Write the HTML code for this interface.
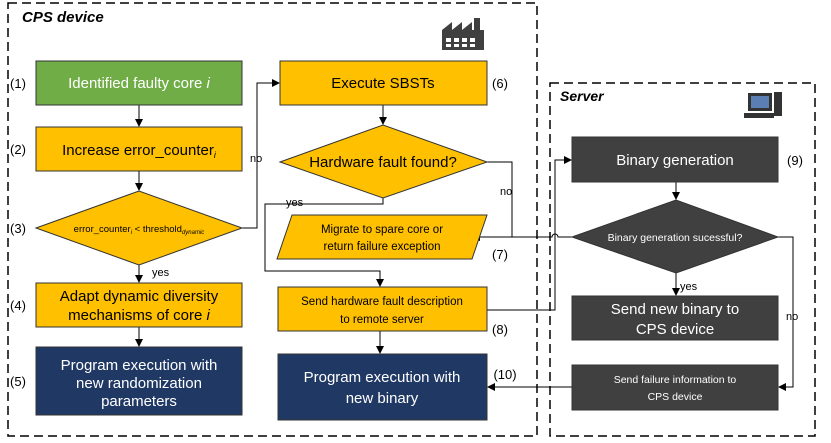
<!DOCTYPE html>
<html><head><meta charset="utf-8"><style>body{margin:0;background:#fff}svg{display:block}text{font-family:"Liberation Sans",sans-serif}</style></head><body>
<svg width="831" height="443" viewBox="0 0 831 443" xmlns="http://www.w3.org/2000/svg">
<defs><marker id="a" markerWidth="8" markerHeight="8" refX="7" refY="4" orient="auto" markerUnits="userSpaceOnUse"><path d="M0,0 L8,4 L0,8 z" fill="#000"/></marker></defs>
<g fill="none" stroke="#000" stroke-width="1.5" stroke-dasharray="9,5">
<rect x="8" y="3" width="529" height="433"/>
<rect x="550" y="83" width="265" height="353"/>
</g>
<text x="22" y="22" font-size="15" font-weight="bold" font-style="italic">CPS device</text>
<text x="560" y="101" font-size="14" font-weight="bold" font-style="italic">Server</text>
<!-- factory icon -->
<g fill="#404040"><rect x="442" y="30" width="42" height="20"/><rect x="474" y="18" width="6" height="14"/><polygon points="442,30 452,22 452,30 462,22 462,30 472,22 472,30"/></g>
<g fill="#fff"><rect x="446" y="38" width="5" height="4"/><rect x="454" y="38" width="5" height="4"/><rect x="462" y="38" width="5" height="4"/><rect x="470" y="38" width="5" height="4"/><rect x="446" y="44" width="5" height="3"/><rect x="454" y="44" width="5" height="3"/><rect x="462" y="44" width="5" height="3"/><rect x="470" y="44" width="5" height="3"/></g>
<!-- computer icon -->
<g fill="#333"><rect x="748" y="93" width="24" height="18"/><rect x="774" y="92" width="8" height="24"/><rect x="744" y="113" width="30" height="5"/></g><rect x="751" y="96" width="18" height="12" fill="#5b7fb5"/>
<!-- connectors -->
<g stroke="#000" stroke-width="1" fill="none">
<line x1="139" y1="105" x2="139" y2="126" marker-end="url(#a)"/>
<line x1="139" y1="171" x2="139" y2="190" marker-end="url(#a)"/>
<line x1="139" y1="265" x2="139" y2="282" marker-end="url(#a)"/>
<line x1="139" y1="327" x2="139" y2="346" marker-end="url(#a)"/>
<polyline points="242,228 257,228 257,83 279,83" marker-end="url(#a)"/>
<line x1="383" y1="105" x2="383" y2="124" marker-end="url(#a)"/>
<polyline points="383,198 383,204 265,204 265,271 380,271 380,286" marker-end="url(#a)"/>
<polyline points="487,162 512,162 512,237 473,237" marker-end="url(#a)"/>
<line x1="380" y1="331" x2="380" y2="353" marker-end="url(#a)"/>
<polyline points="487,310 555,310 555,160 571,160" marker-end="url(#a)"/>
<path d="M572,237 L558,237 A3,3 0 0 0 552,237 L473,237" marker-end="url(#a)"/>
<line x1="676" y1="182" x2="676" y2="199" marker-end="url(#a)"/>
<line x1="676" y1="273" x2="676" y2="295" marker-end="url(#a)"/>
<polyline points="778,237 793,237 793,387 779,387" marker-end="url(#a)"/>
<line x1="572" y1="387" x2="488" y2="387" marker-end="url(#a)"/>
</g>
<!-- shapes -->
<g stroke="#333" stroke-width="1">
<rect x="36" y="61" width="206" height="44" fill="#70AD47"/>
<rect x="36" y="127" width="206" height="44" fill="#FFC000"/>
<polygon points="36,228 139,191 242,228 139,265" fill="#FFC000"/>
<rect x="36" y="283" width="206" height="44" fill="#FFC000"/>
<rect x="36" y="347" width="206" height="68" fill="#203864"/>
<rect x="280" y="61" width="207" height="44" fill="#FFC000"/>
<polygon points="280,162 383,125 487,162 383,198" fill="#FFC000"/>
<polygon points="292,215 487,215 472,259 277,259" fill="#FFC000"/>
<rect x="278" y="287" width="209" height="44" fill="#FFC000"/>
<rect x="278" y="354" width="209" height="66" fill="#203864"/>
<rect x="572" y="137" width="206" height="45" fill="#404040"/>
<polygon points="572,237 676,200 778,237 676,273" fill="#404040"/>
<rect x="572" y="296" width="206" height="44" fill="#404040"/>
<rect x="572" y="365" width="206" height="45" fill="#404040"/>
</g>
<!-- labels -->
<g font-size="13" text-anchor="middle">
<text x="18" y="88">(1)</text><text x="18" y="154">(2)</text><text x="18" y="233">(3)</text><text x="18" y="310">(4)</text><text x="18" y="386">(5)</text>
<text x="500" y="88">(6)</text><text x="500" y="259">(7)</text><text x="500" y="334">(8)</text><text x="505" y="379">(10)</text><text x="795" y="165">(9)</text>
</g>
<g font-size="11">
<text x="250" y="162">no</text><text x="152" y="276">yes</text><text x="286" y="206">yes</text><text x="500" y="195">no</text><text x="680" y="290">yes</text><text x="786" y="320">no</text>
</g>
<g font-size="15" text-anchor="middle" fill="#fff">
<text x="139" y="88">Identified faulty core <tspan font-style="italic">i</tspan></text>
<text x="139" y="370">Program execution with</text><text x="139" y="388">new randomization</text><text x="139" y="406">parameters</text>
<text x="382" y="382">Program execution with</text><text x="382" y="403">new binary</text>
<text x="675" y="165">Binary generation</text>
<text x="675" y="314">Send new binary to</text><text x="675" y="334">CPS device</text>
</g>
<g text-anchor="middle" fill="#fff" font-size="10.5">
<text x="675" y="241">Binary generation sucessful?</text>
<text x="675" y="383">Send failure information to</text><text x="675" y="400">CPS device</text>
</g>
<g text-anchor="middle" font-size="15">
<text x="139" y="155">Increase error_counter<tspan font-size="9" font-style="italic" dy="3">i</tspan></text>
<text x="139" y="301">Adapt dynamic diversity</text><text x="139" y="320">mechanisms of core <tspan font-style="italic">i</tspan></text>
<text x="383" y="88">Execute SBSTs</text>
<text x="383" y="167">Hardware fault found?</text>
</g>
<g text-anchor="middle" font-size="11.5">
<text x="382" y="233">Migrate to spare core or</text><text x="382" y="250">return failure exception</text>
<text x="382" y="305">Send hardware fault description</text><text x="382" y="323">to remote server</text>
</g>
<text x="139" y="232" font-size="9.5" text-anchor="middle">error_counter<tspan font-size="6" font-style="italic" dy="2">i</tspan><tspan dy="-2"> &lt; threshold</tspan><tspan font-size="6" font-style="italic" dy="2">dynamic</tspan></text>
</svg>
</body></html>
